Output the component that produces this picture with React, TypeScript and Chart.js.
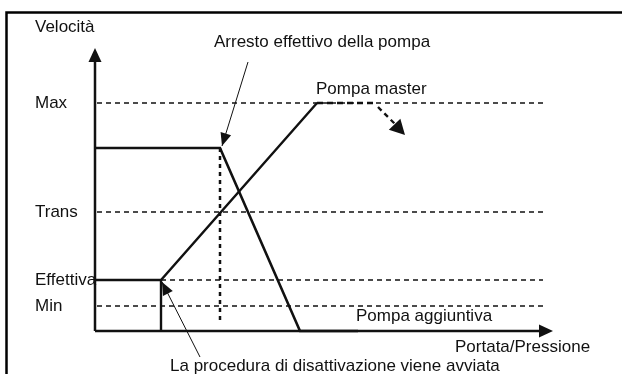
import React, { useEffect, useRef } from "react";
import { Chart, registerables } from "chart.js";

Chart.register(...registerables);

// Speed levels (units above the flow axis)
const LEVEL_LABELS = ["Max", "Trans", "Effettiva", "Min"];
const LEVEL_VALUES = [228, 119, 51, 25];
const LEVEL_START = [2, 2, 66, 2];
const LEVEL_END = 448;

// Additional pump (stopping)
const AGG_X = [0, 125, 205, 263];
const AGG_Y = [183, 183, 0, 0];

// Master pump (ramping up)
const MASTER_X = [0, 66, 222];
const MASTER_Y = [51, 51, 228];
const MASTER_START_X = [66, 66];
const MASTER_START_Y = [0, 51];
const MASTER_CONT_X = [222, 280];
const MASTER_CONT_Y = [228, 228];
const MASTER_DIR_X = [283, 300];
const MASTER_DIR_Y = [224, 207];

// Effective stop marker
const STOP_X = [125, 125];
const STOP_Y = [183, 7];

// Axes extents
const AXIS_Y_TOP = 283;
const AXIS_X_END = 458;

// Annotation arrows: [fromX, fromY, toX, toY]
const NOTE_ARROWS = [
  [153, 269, 127, 185],
  [105, -26, 67, 49],
];

const TEXTS = [
  { t: "Velocità", x: -60, y: 304 },
  { t: "Arresto effettivo della pompa", x: 119, y: 289 },
  { t: "Pompa master", x: 221, y: 242 },
  { t: "Pompa aggiuntiva", x: 261, y: 15 },
  { t: "Portata/Pressione", x: 360, y: -16 },
  { t: "La procedura di disattivazione viene avviata", x: 75, y: -35 },
];

const LABEL_X = -60;

const FONT = "17px 'Liberation Sans', Arial, sans-serif";

function pts(xs: number[], ys: number[]) {
  return xs.map((x, i) => ({ x, y: ys[i] }));
}

function arrowHead(ctx: CanvasRenderingContext2D, fx: number, fy: number, tx: number, ty: number, len: number, wid: number) {
  const a = Math.atan2(ty - fy, tx - fx);
  ctx.save();
  ctx.translate(tx, ty);
  ctx.rotate(a);
  ctx.beginPath();
  ctx.moveTo(0, 0);
  ctx.lineTo(-len, wid / 2);
  ctx.lineTo(-len, -wid / 2);
  ctx.closePath();
  ctx.fillStyle = "#111";
  ctx.fill();
  ctx.restore();
}

const overlay = {
  id: "overlay",
  afterDatasetsDraw(chart: any) {
    const ctx = chart.ctx as CanvasRenderingContext2D;
    const xs = chart.scales.x;
    const ys = chart.scales.y;
    const px = (v: number) => xs.getPixelForValue(v);
    const py = (v: number) => ys.getPixelForValue(v);
    // frame (top and left only)
    ctx.save();
    ctx.strokeStyle = "#000";
    ctx.lineWidth = 2.5;
    ctx.beginPath();
    ctx.moveTo(px(-88.5), py(-43));
    ctx.lineTo(px(-88.5), py(318.5));
    ctx.lineTo(px(527), py(318.5));
    ctx.stroke();
    // axis arrowheads
    arrowHead(ctx, px(0), py(0), px(0), py(AXIS_Y_TOP), 14, 13);
    arrowHead(ctx, px(0), py(0), px(AXIS_X_END), py(0), 14, 13);
    // master direction arrowhead
    arrowHead(ctx, px(MASTER_DIR_X[0]), py(MASTER_DIR_Y[0]), px(310), py(196), 15, 16);
    // annotation arrows
    ctx.strokeStyle = "#111";
    ctx.lineWidth = 1;
    NOTE_ARROWS.forEach(([fx, fy, tx, ty]) => {
      ctx.beginPath();
      ctx.moveTo(px(fx), py(fy));
      ctx.lineTo(px(tx), py(ty));
      ctx.stroke();
      arrowHead(ctx, px(fx), py(fy), px(tx), py(ty), 13, 11);
    });
    // texts
    ctx.fillStyle = "#111";
    ctx.font = FONT;
    ctx.textBaseline = "middle";
    ctx.textAlign = "left";
    LEVEL_LABELS.forEach((l, i) => ctx.fillText(l, px(LABEL_X), py(LEVEL_VALUES[i])));
    TEXTS.forEach((o) => ctx.fillText(o.t, px(o.x), py(o.y)));
    ctx.restore();
  },
};

export default function App() {
  const ref = useRef<HTMLCanvasElement | null>(null);
  useEffect(() => {
    document.body.style.margin = "0";
    const base = { showLine: true, pointRadius: 0, tension: 0, borderColor: "#111", fill: false };
    const levels = LEVEL_VALUES.map((v, i) => ({
      ...base,
      label: LEVEL_LABELS[i],
      data: pts([LEVEL_START[i], LEVEL_END], [v, v]),
      borderWidth: 1.4,
      borderDash: [5, 4],
    }));
    const chart = new Chart(ref.current as HTMLCanvasElement, {
      type: "scatter",
      data: {
        datasets: [
          ...levels,
          { ...base, label: "stop", data: pts(STOP_X, STOP_Y), borderWidth: 2.5, borderDash: [4, 4] },
          { ...base, label: "Pompa aggiuntiva", data: pts(AGG_X, AGG_Y), borderWidth: 2.6 },
          { ...base, label: "Pompa master", data: pts(MASTER_X, MASTER_Y), borderWidth: 2.4 },
          { ...base, label: "start", data: pts(MASTER_START_X, MASTER_START_Y), borderWidth: 2.4 },
          { ...base, label: "cont", data: pts(MASTER_CONT_X, MASTER_CONT_Y), borderWidth: 2.4, borderDash: [6, 4] },
          { ...base, label: "dir", data: pts(MASTER_DIR_X, MASTER_DIR_Y), borderWidth: 2.4, borderDash: [5, 4] },
          { ...base, label: "yaxis", data: pts([0, 0], [0, AXIS_Y_TOP - 10]), borderWidth: 2.5 },
          { ...base, label: "xaxis", data: pts([0, AXIS_X_END - 10], [0, 0]), borderWidth: 2.5 },
        ] as any,
      },
      options: {
        responsive: false,
        animation: false,
        layout: { padding: 0 },
        plugins: { legend: { display: false }, tooltip: { enabled: false } },
        scales: {
          x: { type: "linear", display: false, min: -95, max: 527 },
          y: { type: "linear", display: false, min: -43, max: 331 },
        },
      },
      plugins: [overlay],
    });
    return () => chart.destroy();
  }, []);
  return <canvas ref={ref} width={622} height={374} style={{ display: "block" }} />;
}
